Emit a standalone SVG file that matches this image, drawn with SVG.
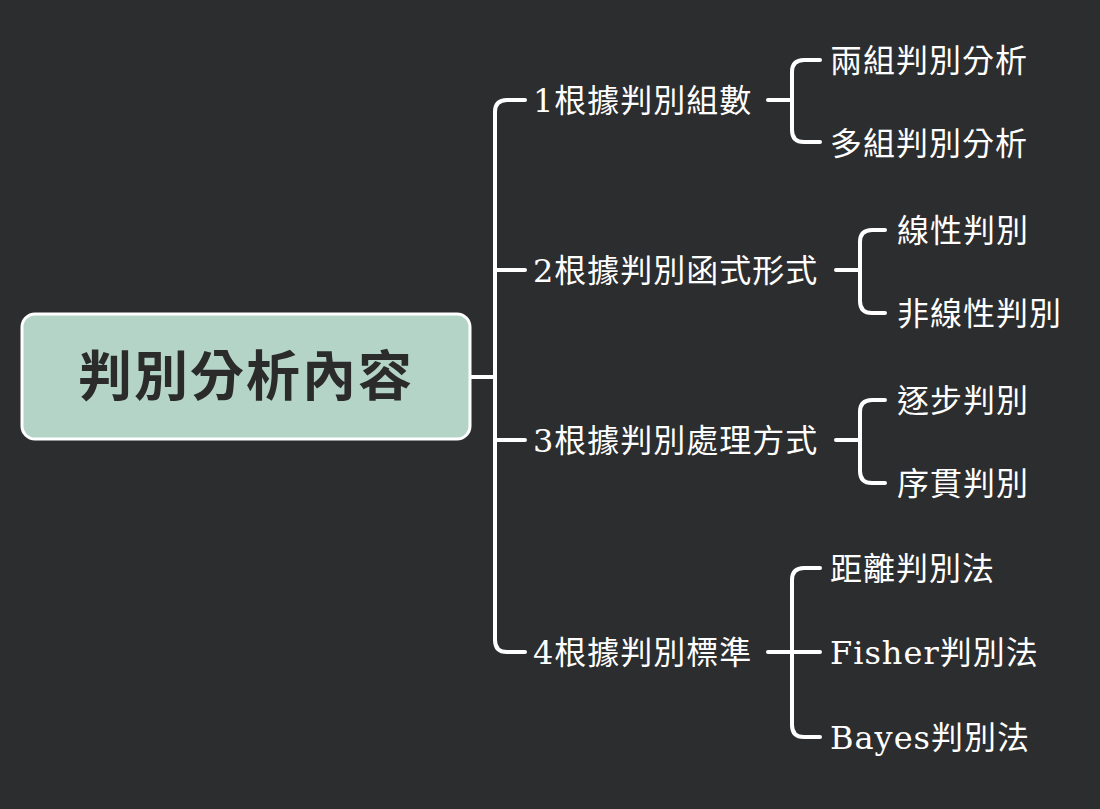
<svg xmlns="http://www.w3.org/2000/svg" width="1100" height="809" viewBox="0 0 1100 809">
<style>
.c{fill:none;stroke:#ffffff;stroke-width:4;stroke-linecap:round;stroke-linejoin:round}
.t{fill:#ffffff;font-family:"DejaVu Serif","Noto Sans CJK TC",serif;font-size:32px;letter-spacing:1px}
.r{fill:#2b2b2b;font-family:"Noto Sans CJK TC",sans-serif;font-size:54px;font-weight:bold;letter-spacing:2px}
</style>
<rect width="1100" height="809" fill="#2c2d2f"/>
<g id="connectors">
<path class="c" d="M470 377H495M525 100H507Q495 100 495 112V640Q495 652 507 652H525M495 270H525M495 440H525"/>
<path class="c" d="M768 100H792M820 60H804Q792 60 792 72V130Q792 142 804 142H820"/>
<path class="c" d="M836 270H860M885 230H872Q860 230 860 242V301Q860 313 872 313H885"/>
<path class="c" d="M836 440H860M885 400H872Q860 400 860 412V471Q860 483 872 483H885"/>
<path class="c" d="M768 652H820M820 568H804Q792 568 792 580V725Q792 737 804 737H820"/>
</g>
<g id="root"><rect x="22" y="314" width="448" height="125" rx="13" fill="#b5d4c8" stroke="#ffffff" stroke-width="3"/><text class="r" x="246" y="396" text-anchor="middle">判別分析內容</text></g>
<g id="n1"><text class="t" x="533" y="112">1根據判別組數</text></g>
<g id="n2"><text class="t" x="533" y="282">2根據判別函式形式</text></g>
<g id="n3"><text class="t" x="533" y="452">3根據判別處理方式</text></g>
<g id="n4"><text class="t" x="533" y="664">4根據判別標準</text></g>
<g id="n11"><text class="t" x="830" y="72">兩組判別分析</text></g>
<g id="n12"><text class="t" x="830" y="155">多組判別分析</text></g>
<g id="n21"><text class="t" x="897" y="242">線性判別</text></g>
<g id="n22"><text class="t" x="897" y="325">非線性判別</text></g>
<g id="n31"><text class="t" x="897" y="412">逐步判別</text></g>
<g id="n32"><text class="t" x="897" y="495">序貫判別</text></g>
<g id="n41"><text class="t" x="830" y="580">距離判別法</text></g>
<g id="n42"><text class="t" x="830" y="664">Fisher判別法</text></g>
<g id="n43"><text class="t" x="830" y="749">Bayes判別法</text></g>
</svg>
